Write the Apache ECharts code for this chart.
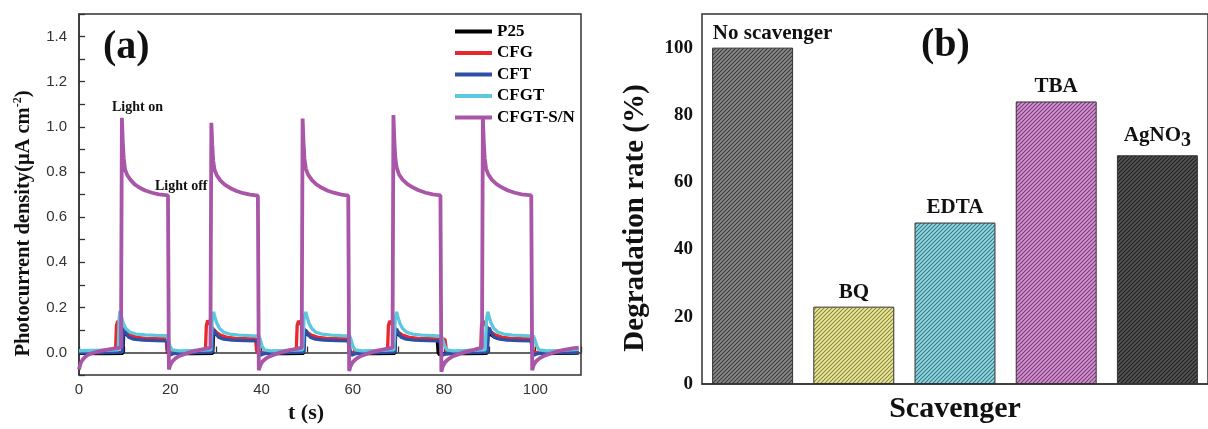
<!DOCTYPE html>
<html>
<head>
<meta charset="utf-8">
<script src="https://cdn.jsdelivr.net/npm/echarts@6/dist/echarts.min.js"></script>
<style>
html,body{margin:0;padding:0;background:#fff;overflow:hidden;}
#c{width:1208px;height:429px;}
</style>
</head>
<body>
<div id="c"></div>
<script>
// ---------- panel (a): photocurrent [t (s), density] ----------
const p25 = [[0,-0.004],[5,-0.005],[9.6,-0.004],[9.8,0.08],[10.0,0.09],[10.5,0.078],[11.3,0.067],[12.5,0.062],[14.5,0.059],[17,0.058],[19.2,0.057],[19.4,0.0],[19.7,-0.006],[22,-0.005],[25,-0.005],[29.3,-0.004],[29.5,0.08],[29.7,0.09],[30.2,0.078],[31,0.067],[32.2,0.062],[34.2,0.059],[36.7,0.058],[39.1,0.057],[39.3,0.0],[39.6,-0.006],[42,-0.005],[45,-0.005],[49.2,-0.004],[49.4,0.08],[49.6,0.09],[50.1,0.08],[50.9,0.07],[52.1,0.063],[54.1,0.059],[56.6,0.058],[59.0,0.057],[59.2,0.0],[59.5,-0.006],[62,-0.005],[65,-0.005],[69.2,-0.004],[69.4,0.08],[69.6,0.09],[70.1,0.078],[70.9,0.067],[72.1,0.062],[74.1,0.059],[76.6,0.058],[78.5,0.057],[78.7,0.0],[79.0,-0.01],[79.5,-0.006],[82,-0.005],[85,-0.005],[89.4,-0.004],[89.6,0.08],[89.8,0.09],[90.3,0.078],[91.1,0.067],[92.3,0.062],[94.3,0.059],[96.8,0.058],[99.1,0.057],[99.3,0.0],[99.6,-0.006],[102,-0.005],[105,-0.004],[109.5,-0.003]];
const cfg = [[0,0.0],[5,0.0],[8.0,0.003],[8.2,0.12],[8.5,0.14],[9.0,0.12],[9.6,0.105],[10.3,0.09],[11.2,0.077],[12.5,0.068],[14.5,0.063],[17,0.061],[19.1,0.06],[19.3,0.01],[19.6,0.0],[22,0.0],[25,0.0],[27.7,0.003],[27.9,0.12],[28.2,0.142],[28.7,0.125],[29.4,0.105],[30.1,0.09],[31,0.077],[32.3,0.068],[34.3,0.063],[36.8,0.061],[38.7,0.06],[38.9,0.01],[39.2,0.0],[42,0.0],[45,0.0],[47.6,0.003],[47.8,0.12],[48.1,0.14],[48.6,0.125],[49.3,0.105],[50,0.09],[50.9,0.077],[52.2,0.068],[54.2,0.063],[56.7,0.061],[59.0,0.06],[59.2,0.01],[59.5,0.0],[62,0.0],[65,0.0],[67.6,0.003],[67.8,0.12],[68.1,0.14],[68.6,0.125],[69.3,0.105],[70,0.09],[70.9,0.077],[72.2,0.068],[74.2,0.063],[76.7,0.061],[80.2,0.058],[80.5,0.01],[80.8,0.0],[83,0.0],[85,0.0],[88.0,0.003],[88.2,0.12],[88.5,0.14],[89,0.125],[89.7,0.105],[90.4,0.09],[91.3,0.077],[92.6,0.068],[94.6,0.063],[97,0.061],[99.3,0.06],[99.5,0.01],[99.8,0.0],[105,0.0],[109.5,0.002]];
const cft = [[0,0.0],[5,0.0],[9.5,0.002],[9.7,0.09],[9.9,0.105],[10.3,0.085],[10.9,0.068],[12,0.059],[14,0.055],[17,0.053],[19.3,0.052],[19.5,0.01],[19.8,-0.012],[20.5,-0.006],[22,-0.002],[25,0.0],[29.2,0.002],[29.4,0.09],[29.6,0.1],[30,0.083],[30.6,0.068],[31.7,0.059],[33.5,0.055],[36.5,0.053],[39.2,0.052],[39.4,0.01],[39.7,-0.012],[40.4,-0.006],[42,-0.002],[45,0.0],[49.3,0.002],[49.5,0.09],[49.7,0.1],[50.1,0.083],[50.7,0.068],[51.8,0.059],[53.6,0.055],[56.5,0.053],[59.2,0.052],[59.4,0.01],[59.7,-0.012],[60.4,-0.006],[62,-0.002],[65,0.0],[69.2,0.002],[69.4,0.095],[69.6,0.105],[70,0.085],[70.6,0.068],[71.7,0.059],[73.5,0.055],[76.5,0.053],[79.1,0.052],[79.3,0.01],[79.6,-0.012],[80.3,-0.006],[82,-0.002],[85,0.0],[89.5,0.002],[89.7,0.1],[89.9,0.11],[90.3,0.088],[90.9,0.07],[92,0.06],[93.8,0.055],[96.5,0.053],[99.1,0.052],[99.3,0.01],[99.6,-0.012],[100.3,-0.006],[102,-0.002],[105,0.0],[109.5,0.001]];
const cfgt = [[0,0.008],[3,0.009],[6,0.010],[8.6,0.012],[8.8,0.15],[9.0,0.185],[9.3,0.16],[9.7,0.13],[10.3,0.105],[11.2,0.09],[12.5,0.082],[14.5,0.078],[17,0.076],[19.2,0.075],[19.5,0.06],[19.9,0.03],[20.4,0.012],[22,0.007],[25,0.009],[28.9,0.012],[29.2,0.15],[29.5,0.18],[29.8,0.155],[30.2,0.13],[30.8,0.107],[31.7,0.09],[33,0.082],[35,0.077],[37.5,0.075],[39.4,0.074],[39.7,0.058],[40.1,0.03],[40.6,0.012],[42,0.007],[45,0.009],[49.0,0.012],[49.3,0.15],[49.7,0.18],[50,0.155],[50.4,0.13],[51,0.107],[51.9,0.09],[53.2,0.082],[55.2,0.077],[57.5,0.075],[59.3,0.074],[59.6,0.058],[60,0.03],[60.5,0.012],[62,0.007],[65,0.009],[69.0,0.012],[69.3,0.15],[69.6,0.18],[69.9,0.155],[70.3,0.13],[70.9,0.107],[71.8,0.09],[73.1,0.082],[75,0.077],[77.5,0.075],[79.4,0.073],[79.7,0.057],[80.1,0.03],[80.6,0.012],[82,0.007],[85,0.009],[89.0,0.012],[89.3,0.15],[89.6,0.18],[89.9,0.155],[90.3,0.13],[90.9,0.107],[91.8,0.09],[93.1,0.082],[95,0.077],[97.5,0.075],[99.6,0.073],[99.9,0.057],[100.3,0.03],[100.8,0.012],[102.5,0.007],[106,0.01],[109.5,0.014]];
const cfgtSN = [[0,-0.075],[0.3,-0.05],[0.7,-0.035],[1.2,-0.022],[2,-0.01],[3,-0.002],[4.5,0.006],[6,0.012],[7.5,0.017],[9.2,0.022],[9.4,1.04],[9.6,0.93],[9.8,0.86],[10.1,0.81],[10.6,0.785],[11.3,0.765],[12.2,0.745],[13.3,0.73],[14.5,0.718],[16,0.708],[17.5,0.701],[19.5,0.696],[19.7,-0.075],[20,-0.055],[20.5,-0.038],[21.2,-0.025],[22,-0.015],[23.5,-0.004],[25,0.005],[26.5,0.012],[28.8,0.022],[29.0,1.018],[29.2,0.92],[29.4,0.85],[29.7,0.81],[30.2,0.785],[31,0.762],[32,0.743],[33.2,0.728],[34.5,0.716],[36,0.706],[37.5,0.7],[39.2,0.695],[39.4,-0.078],[39.7,-0.058],[40.2,-0.04],[41,-0.026],[42,-0.015],[43.5,-0.004],[45,0.005],[46.5,0.012],[48.8,0.022],[49.0,1.037],[49.2,0.93],[49.4,0.86],[49.7,0.815],[50.2,0.788],[51,0.765],[52,0.745],[53.2,0.73],[54.5,0.717],[56,0.707],[57.5,0.7],[59.0,0.695],[59.2,-0.082],[59.5,-0.06],[60,-0.042],[60.8,-0.027],[61.8,-0.015],[63.3,-0.004],[65,0.006],[66.5,0.013],[68.7,0.022],[68.9,1.052],[69.1,0.94],[69.3,0.865],[69.6,0.82],[70.1,0.79],[70.9,0.766],[71.9,0.747],[73.1,0.732],[74.4,0.719],[76,0.708],[77.5,0.701],[79.2,0.696],[79.4,-0.085],[79.7,-0.062],[80.2,-0.043],[81,-0.028],[82,-0.016],[83.5,-0.005],[85,0.005],[86.5,0.012],[88.3,0.022],[88.5,1.04],[88.7,0.93],[88.9,0.86],[89.2,0.815],[89.7,0.788],[90.5,0.765],[91.5,0.746],[92.7,0.731],[94,0.718],[95.5,0.708],[97,0.701],[99.1,0.696],[99.3,-0.078],[99.6,-0.057],[100.1,-0.04],[100.9,-0.026],[102,-0.014],[103.5,-0.003],[105,0.006],[106.5,0.013],[108.5,0.02],[109.5,0.022]];
const seriesNamesA = ['P25','CFG','CFT','CFGT','CFGT-S/N'];

// ---------- panel (b): degradation rate ----------
const scavengers = ['No scavenger','BQ','EDTA','TBA','AgNO3'];
const rates = [100, 23, 48, 84, 68];

const serif = '"Liberation Serif","Times New Roman",serif';
const sans = '"Liberation Sans",Arial,sans-serif';

function hatch(base, line) {
  const s = 4;
  const c = document.createElement('canvas');
  c.width = s; c.height = s;
  const g = c.getContext('2d');
  g.fillStyle = base; g.fillRect(0, 0, s, s);
  g.strokeStyle = line; g.lineWidth = 1.1;
  g.beginPath();
  g.moveTo(0, s); g.lineTo(s, 0);
  g.moveTo(-1, 1); g.lineTo(1, -1);
  g.moveTo(s - 1, s + 1); g.lineTo(s + 1, s - 1);
  g.stroke();
  return { image: c, repeat: 'repeat' };
}
const barFills = [
  hatch('#8c8c8c', '#3a3a3a'),
  hatch('#f0ec94', '#85854a'),
  hatch('#92dae3', '#3a7886'),
  hatch('#d494d2', '#7a3c78'),
  hatch('#565656', '#1e1e1e')
];
const lineColors = ['#000000', '#e8282c', '#2f4ea6', '#5cc8df', '#a955a8'];
const lineData = [p25, cfg, cft, cfgt, cfgtSN];

const chart = echarts.init(document.getElementById('c'), null, { renderer: 'canvas' });

const lineSeries = seriesNamesA.map((n, i) => ({
  name: n, type: 'line', xAxisIndex: 0, yAxisIndex: 0,
  data: lineData[i], symbol: 'none', smooth: false,
  lineStyle: { color: lineColors[i], width: i === 4 ? 3.8 : 3.3 },
  itemStyle: { color: lineColors[i] },
  z: 2 + i, animation: false
}));

const barLabelRich = {
  n: { fontFamily: serif, fontWeight: 'bold', fontSize: 21, color: '#111' },
  s: { fontFamily: serif, fontWeight: 'bold', fontSize: 20, color: '#111', padding: [12, 0, 0, 0] }
};

const option = {
  animation: false,
  backgroundColor: '#fff',
  grid: [
    { left: 79, top: 14, width: 502, height: 369, show: true, borderColor: '#333', borderWidth: 1.5, backgroundColor: 'transparent' },
    { left: 702, top: 14, width: 513, height: 374, show: true, borderColor: '#333', borderWidth: 1.5, backgroundColor: 'transparent' }
  ],
  legend: {
    data: seriesNamesA, orient: 'vertical', left: 450, top: 18,
    itemWidth: 37, itemHeight: 4, itemGap: 4.5,
    icon: 'rect',
    textStyle: { fontFamily: serif, fontWeight: 'bold', fontSize: 17, color: '#000', lineHeight: 17 }
  },
  xAxis: [
    {
      type: 'value', gridIndex: 0, min: 0, max: 110, interval: 10,
      name: 't (s)', nameLocation: 'middle', nameGap: 24,
      nameTextStyle: { fontFamily: serif, fontWeight: 'bold', fontSize: 22, color: '#111', padding: [0, 48, 0, 0] },
      axisLine: { lineStyle: { color: '#333', width: 1.5 } },
      axisTick: { inside: true, length: 6, lineStyle: { color: '#333', width: 1.3 } },
      axisLabel: { margin: 7, fontFamily: sans, fontSize: 15, color: '#333',
        formatter: v => (Math.round(v) % 20 === 0 ? String(Math.round(v)) : '') },
      splitLine: { show: false }
    },
    {
      type: 'category', gridIndex: 1, data: scavengers,
      name: 'Scavenger', nameLocation: 'middle', nameGap: 10,
      nameTextStyle: { fontFamily: serif, fontWeight: 'bold', fontSize: 30, color: '#111' },
      axisLine: { lineStyle: { color: '#333', width: 1.5 } },
      axisTick: { show: false }, axisLabel: { show: false }
    }
  ],
  yAxis: [
    {
      type: 'value', gridIndex: 0, min: -0.1, max: 1.5, interval: 0.1,
      name: '{t|Photocurrent density(μA cm}{sup|-2}{t|)}', nameLocation: 'middle', nameGap: 43,
      nameTextStyle: {
        padding: [0, 58, 0, 0],
        rich: {
          t: { fontFamily: serif, fontWeight: 'bold', fontSize: 20.5, color: '#111' },
          sup: { fontFamily: serif, fontWeight: 'bold', fontSize: 12, color: '#111', padding: [0, 0, 12, 0] }
        }
      },
      axisLine: { lineStyle: { color: '#333', width: 1.5 } },
      axisTick: { inside: true, length: 6, lineStyle: { color: '#333', width: 1.3 } },
      axisLabel: { margin: 12, fontFamily: sans, fontSize: 15, color: '#333',
        formatter: v => { const k = Math.round(v * 10); return (k % 2 === 0 && k >= 0 && k <= 14) ? (k / 10).toFixed(1) : ''; } },
      splitLine: { show: false }
    },
    {
      type: 'value', gridIndex: 1, min: 0, max: 110, interval: 10,
      name: 'Degradation rate (%)', nameLocation: 'middle', nameGap: 52,
      nameTextStyle: { fontFamily: serif, fontWeight: 'bold', fontSize: 29, color: '#111', padding: [0, 38, 0, 0] },
      axisLine: { lineStyle: { color: '#333', width: 1.5 } },
      axisTick: { inside: true, length: 5, lineStyle: { color: '#333', width: 1.3 } },
      axisLabel: { margin: 9, fontFamily: serif, fontWeight: 'bold', fontSize: 19, color: '#111',
        formatter: v => (Math.round(v) % 20 === 0 && v <= 100 ? String(Math.round(v)) : '') },
      splitLine: { show: false }
    }
  ],
  series: lineSeries.concat([{
    type: 'bar', xAxisIndex: 1, yAxisIndex: 1, barCategoryGap: '20%',
    data: rates.map((v, i) => ({
      value: v,
      itemStyle: { color: barFills[i], borderColor: '#333', borderWidth: 1 },
      label: i === 0 ? { offset: [20, 0] } : {}
    })),
    label: {
      show: true, position: 'top', distance: 4,
      fontFamily: serif, fontWeight: 'bold', fontSize: 21, color: '#111',
      formatter: p => (p.name === 'AgNO3' ? '{n|AgNO}{s|3}' : '{n|' + p.name + '}'),
      rich: barLabelRich
    },
    animation: false
  }]),
  graphic: [
    { type: 'text', left: 103, top: 28, style: { text: '(a)', font: 'bold 40px ' + serif, fill: '#111' } },
    { type: 'text', left: 921, top: 26, style: { text: '(b)', font: 'bold 40px ' + serif, fill: '#111' } },
    { type: 'text', left: 112, top: 100, style: { text: 'Light on', font: 'bold 14px ' + serif, fill: '#111' } },
    { type: 'text', left: 155, top: 179, style: { text: 'Light off', font: 'bold 14px ' + serif, fill: '#111' } }
  ]
};
chart.setOption(option);
</script>
</body>
</html>
